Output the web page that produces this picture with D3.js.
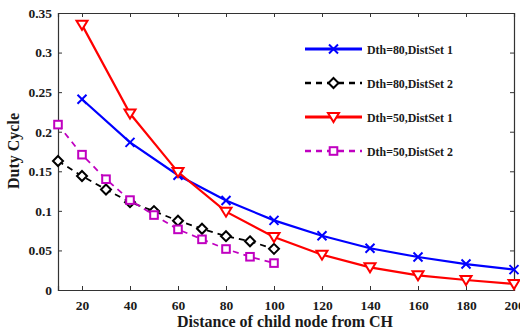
<!DOCTYPE html>
<html>
<head>
<meta charset="utf-8">
<script src="https://cdn.jsdelivr.net/npm/d3@7"></script>
<style>
  body { margin: 0; background: #fff; }
  text { font-family: "Liberation Serif", "Times New Roman", serif; font-weight: bold; }
</style>
</head>
<body>
<div id="chart"></div>
<script>
// data
const xSet1 = [20, 40, 60, 80, 100, 120, 140, 160, 180, 200];
const xSet2 = [10, 20, 30, 40, 50, 60, 70, 80, 90, 100];
const dth80set1 = [0.241, 0.1865, 0.145, 0.113, 0.088, 0.0686, 0.0527, 0.0417, 0.0328, 0.0257];
const dth80set2 = [0.163, 0.144, 0.127, 0.111, 0.0997, 0.0875, 0.0774, 0.068, 0.0615, 0.052];
const dth50set1 = [0.335, 0.223, 0.149, 0.099, 0.067, 0.0446, 0.0286, 0.0185, 0.0126, 0.0076];
const dth50set2 = [0.209, 0.171, 0.140, 0.1136, 0.0947, 0.0766, 0.064, 0.0518, 0.042, 0.034];
const xTicks = [20, 40, 60, 80, 100, 120, 140, 160, 180, 200];
const yTicks = [0, 0.05, 0.1, 0.15, 0.2, 0.25, 0.3, 0.35];
const seriesNames = ["Dth=80,DistSet 1", "Dth=80,DistSet 2", "Dth=50,DistSet 1", "Dth=50,DistSet 2"];

const W = 520, H = 336;
const margin = { top: 13, right: 6, bottom: 46, left: 58 };
const width = W - margin.left - margin.right;
const height = H - margin.top - margin.bottom;

const series = [
  { name: seriesNames[0], xs: xSet1, ys: dth80set1, color: "#0000ff", dash: null, marker: "x", sw: 2.2 },
  { name: seriesNames[1], xs: xSet2, ys: dth80set2, color: "#000000", dash: "6,5", marker: "diamond", sw: 1.8 },
  { name: seriesNames[2], xs: xSet1, ys: dth50set1, color: "#ff0000", dash: null, marker: "tri", sw: 2.2 },
  { name: seriesNames[3], xs: xSet2, ys: dth50set2, color: "#c000c0", dash: "6,5", marker: "square", sw: 1.8 }
];

const svg = d3.select("#chart").append("svg")
  .attr("width", W).attr("height", H);
const g = svg.append("g").attr("transform", `translate(${margin.left},${margin.top})`);

const x = d3.scaleLinear().domain([10, 200]).range([0, width]);
const y = d3.scaleLinear().domain([0, 0.35]).range([height, 0]);

// axes, ticks inward
const xAxis = g.append("g").attr("transform", `translate(0,${height})`)
  .call(d3.axisBottom(x).tickValues(xTicks).tickSize(-4).tickPadding(10).tickFormat(d3.format("d")));
const yAxis = g.append("g")
  .call(d3.axisLeft(y).tickValues(yTicks).tickSize(-4).tickPadding(6).tickFormat(d => d === 0 ? "0" : d3.format("")(d)));
const xTop = g.append("g")
  .call(d3.axisTop(x).tickValues(xTicks).tickSize(-4).tickFormat(""));
const yRight = g.append("g").attr("transform", `translate(${width},0)`)
  .call(d3.axisRight(y).tickValues(yTicks).tickSize(-4).tickFormat(""));

[xAxis, yAxis, xTop, yRight].forEach(a => {
  a.select(".domain").attr("stroke", "#333").attr("stroke-width", 1.2);
  a.selectAll(".tick line").attr("stroke", "#333");
  a.selectAll(".tick text").style("font-size", "13.5px").attr("fill", "#1a1a1a")
    .style("font-family", "'Liberation Serif', serif").style("font-weight", "bold");
});

// lines
const line = d3.line().x(d => x(d[0])).y(d => y(d[1]));

function drawMarker(sel, type, color) {
  if (type === "x") {
    sel.append("path").attr("d", "M-4.5,-4.5L4.5,4.5M-4.5,4.5L4.5,-4.5")
      .attr("stroke", color).attr("stroke-width", 2).attr("fill", "none");
  } else if (type === "diamond") {
    sel.append("path").attr("d", "M0,-5L5,0L0,5L-5,0Z")
      .attr("stroke", color).attr("stroke-width", 2).attr("fill", "#fff");
  } else if (type === "tri") {
    sel.append("path").attr("d", "M-5.5,-4L5.5,-4L0,5Z")
      .attr("stroke", color).attr("stroke-width", 2).attr("fill", "#fff");
  } else if (type === "square") {
    sel.append("rect").attr("x", -3.8).attr("y", -3.8).attr("width", 7.6).attr("height", 7.6)
      .attr("stroke", color).attr("stroke-width", 2).attr("fill", "#fff");
  }
}

const plot = g.append("g");
series.forEach(s => {
  const pts = s.xs.map((v, i) => [v, s.ys[i]]);
  plot.append("path")
    .datum(pts)
    .attr("d", line)
    .attr("fill", "none")
    .attr("stroke", s.color)
    .attr("stroke-width", s.sw)
    .attr("stroke-dasharray", s.dash);
  pts.forEach(p => {
    const m = plot.append("g").attr("transform", `translate(${x(p[0])},${y(p[1])})`);
    drawMarker(m, s.marker, s.color);
  });
});

// legend
const legend = g.append("g").attr("transform", `translate(${305 - margin.left},${49 - margin.top})`);
series.forEach((s, i) => {
  const row = legend.append("g").attr("transform", `translate(0,${i * 34})`);
  row.append("line")
    .attr("x1", 0).attr("x2", 57).attr("y1", 0).attr("y2", 0)
    .attr("stroke", s.color).attr("stroke-width", s.sw + 0.6)
    .attr("stroke-dasharray", s.dash);
  const m = row.append("g").attr("transform", "translate(28.5,0)");
  drawMarker(m, s.marker, s.color);
  row.append("text")
    .attr("x", 62).attr("y", 0).attr("dy", "0.35em")
    .attr("textLength", 86).attr("lengthAdjust", "spacingAndGlyphs")
    .style("font-size", "13.5px").attr("fill", "#1a1a1a")
    .text(s.name);
});

// axis titles
svg.append("text")
  .attr("x", margin.left + width / 2 - 1).attr("y", 327)
  .attr("text-anchor", "middle")
  .style("font-size", "16px").attr("fill", "#1a1a1a")
  .text("Distance of child node from CH");

svg.append("text")
  .attr("transform", `translate(19,151) rotate(-90)`)
  .attr("text-anchor", "middle")
  .style("font-size", "16px").attr("fill", "#1a1a1a")
  .text("Duty Cycle");
</script>
</body>
</html>
